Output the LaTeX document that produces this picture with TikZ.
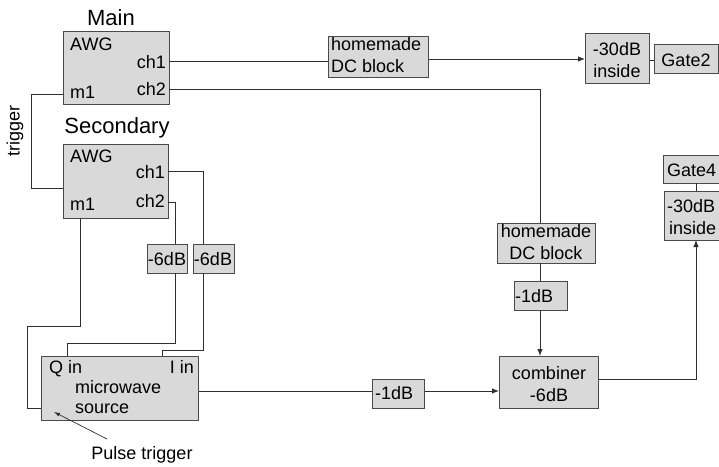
\documentclass[tikz,border=0pt]{standalone}
\usepackage{fontspec}
\setmainfont{Liberation Sans}
\usetikzlibrary{arrows.meta}
\definecolor{boxfill}{HTML}{D9D9D9}
\definecolor{boxline}{HTML}{4A4A4A}
\definecolor{wire}{HTML}{303030}
\begin{document}
\begin{tikzpicture}[x=1pt,y=-1pt,
  box/.style={draw=boxline,fill=boxfill,line width=1.1pt,inner sep=0pt,anchor=north west},
  txt/.style={inner sep=0pt,font=\fontsize{18}{22}\selectfont},
  title/.style={inner sep=0pt,font=\fontsize{22}{26}\selectfont},
  wireline/.style={draw=wire,line width=0.9pt},
  arr/.style={wireline,-{Latex[length=7pt,width=5.5pt]}}]
\useasboundingbox (0,0) rectangle (719,466);
% boxes
\node[box,minimum width=106pt,minimum height=73pt] (main) at (63,31) {};
\node[box,minimum width=105pt,minimum height=74pt] (sec) at (63,144) {};
\node[box,minimum width=100pt,minimum height=41pt] (dc1) at (328,36) {};
\node[box,minimum width=64pt,minimum height=50pt] (att1) at (585,33) {};
\node[box,minimum width=64pt,minimum height=29pt] (gate2) at (654,44) {};
\node[box,minimum width=98pt,minimum height=40pt] (dc2) at (497,223) {};
\node[box,minimum width=53pt,minimum height=29pt] (dba) at (514,281) {};
\node[box,minimum width=99pt,minimum height=52pt] (comb) at (499,356) {};
\node[box,minimum width=66pt,minimum height=49pt] (att2) at (664,191) {};
\node[box,minimum width=66pt,minimum height=28pt] (gate4) at (663,155) {};
\node[box,minimum width=40pt,minimum height=29pt] (sixa) at (147,244) {};
\node[box,minimum width=41pt,minimum height=29pt] (sixb) at (193,244) {};
\node[box,minimum width=157pt,minimum height=64pt] (mw) at (41,356) {};
\node[box,minimum width=52pt,minimum height=29pt] (dbb) at (372,379) {};
% titles
\node[title] (tmain) at (111,18) {Main};
\node[title] (tsec) at (117,128) {Secondary};
% main AWG labels
\node[txt,anchor=west] (mawg) at (70,44) {AWG};
\node[txt,anchor=east] (mch1) at (166,62) {ch1};
\node[txt,anchor=east] (mch2) at (166,89) {ch2};
\node[txt,anchor=west] (mm1) at (70,92) {m1};
% secondary AWG labels
\node[txt,anchor=west] (sawg) at (70,156) {AWG};
\node[txt,anchor=east] (sch1) at (165,172) {ch1};
\node[txt,anchor=east] (sch2) at (165,201) {ch2};
\node[txt,anchor=west] (sm1) at (70,204) {m1};
% other box texts
\node[txt,anchor=west] (dc1a) at (331,44) {homemade};
\node[txt,anchor=west] (dc1b) at (331,66) {DC block};
\node[txt] (att1a) at (617,49) {-30dB};
\node[txt] (att1b) at (617,71) {inside};
\node[txt] (g2) at (686,60) {Gate2};
\node[txt] (dc2a) at (546,231) {homemade};
\node[txt] (dc2b) at (546,253) {DC block};
\node[txt,anchor=west] (dbat) at (515,296) {-1dB};
\node[txt] (comba) at (549,373) {combiner};
\node[txt] (combb) at (549,395) {-6dB};
\node[txt,anchor=west] (att2a) at (667,206) {-30dB};
\node[txt,anchor=west] (att2b) at (669,228) {inside};
\node[txt,anchor=west] (g4) at (667,170) {Gate4};
\node[txt] (sixat) at (167,259) {-6dB};
\node[txt] (sixbt) at (213,259) {-6dB};
\node[txt,anchor=west] (qin) at (49,369) {Q in};
\node[txt,anchor=east] (iin) at (194,367) {I in};
\node[txt,anchor=west] (mwa) at (75,387) {microwave};
\node[txt,anchor=west] (mwb) at (75,409) {source};
\node[txt,anchor=west] (dbbt) at (375,393) {-1dB};
\node[txt,rotate=90] (trig) at (15,131) {trigger};
\node[txt] (pulse) at (142,455) {Pulse trigger};
% coordinates
\coordinate (mch1p) at (169,61);
\coordinate (mch2p) at (169,89);
\coordinate (mm1p) at (63,94);
\coordinate (sm1in) at (63,188);
\coordinate (sch1p) at (168,171);
\coordinate (sch2p) at (168,202);
\coordinate (sm1p) at (80,218);
\coordinate (ptail) at (107,439);
\coordinate (phead) at (54,412);
% connectors
\draw[wireline] (mch1p) -- (mch1p -| dc1.west);
\draw[arr] (dc1.east |- 0,59) -- (att1.west |- 0,59);
\draw[wireline] (att1.east |- 0,60) -- (gate2.west |- 0,60);
\draw[wireline] (mch2p) -- (540,89) -- (540,223);
\draw[wireline] (540,263) -- (540,281);
\draw[arr] (540,310) -- (540,356);
\draw[wireline] (mw.east |- 0,391) -- (dbb.west |- 0,391);
\draw[arr] (dbb.east |- 0,391) -- (comb.west |- 0,391);
\draw[arr] (comb.east |- 0,379) -- (696,379) -- (696,240);
\draw[wireline] (696,183) -- (696,191);
\draw[wireline] (mm1p) -- (31,94) -- (31,188) -- (sm1in);
\draw[wireline] (sch1p) -- (203,171) -- (203,244);
\draw[wireline] (203,273) -- (203,350) -- (162,350) -- (162,356);
\draw[wireline] (sch2p) -- (175,202) -- (175,244);
\draw[wireline] (175,273) -- (175,343) -- (67,343) -- (67,356);
\draw[wireline] (sm1p) -- (80,326) -- (27,326) -- (27,408) -- (41,408);
\draw[wireline,line width=0.7pt,-{Latex[length=6pt,width=4pt]}] (ptail) -- (phead);
\end{tikzpicture}
\end{document}
